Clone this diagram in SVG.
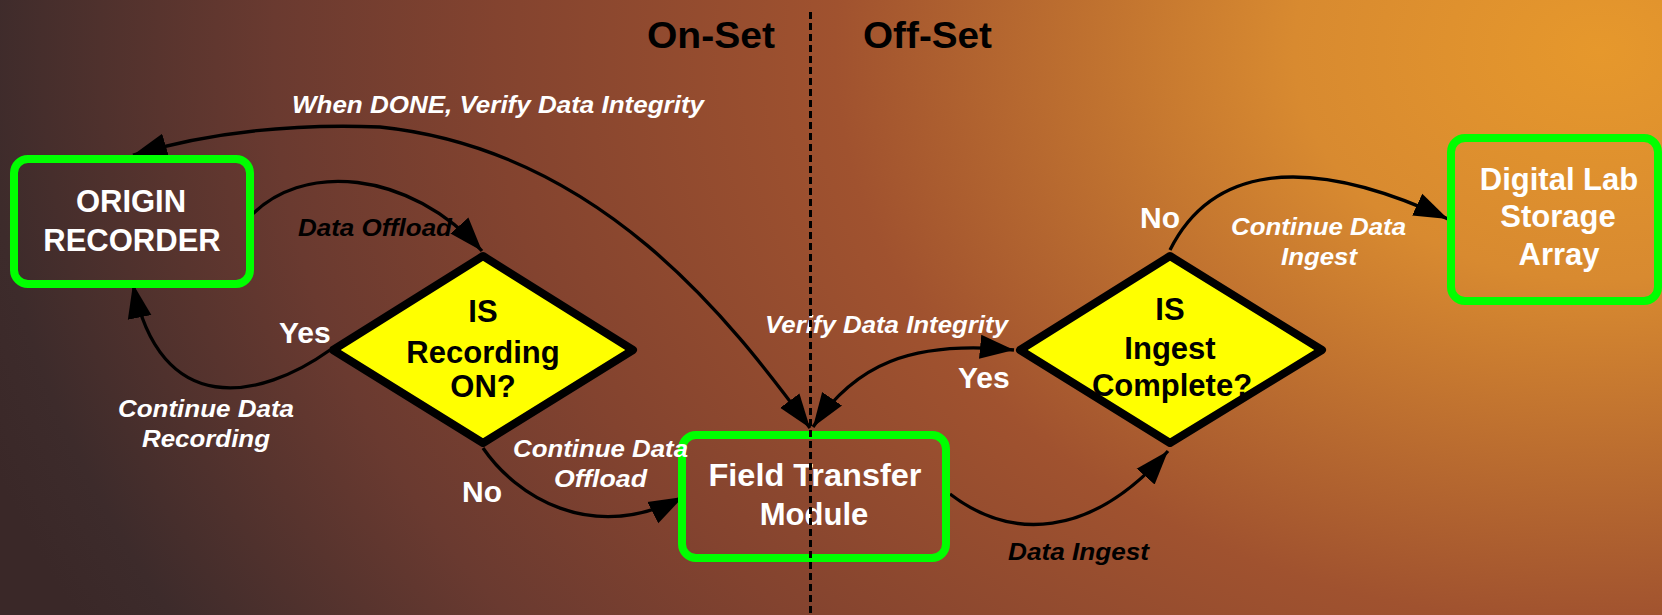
<svg xmlns="http://www.w3.org/2000/svg" width="1662" height="615" viewBox="0 0 1662 615">
<defs>
<radialGradient id="bg" gradientUnits="userSpaceOnUse" cx="1600" cy="50" r="1700" gradientTransform="translate(1600 50) scale(1 0.75) translate(-1600 -50)">
<stop offset="0" stop-color="#e6982c"/>
<stop offset="0.18" stop-color="#d88a30"/>
<stop offset="0.45" stop-color="#a0522f"/>
<stop offset="0.65" stop-color="#83432f"/>
<stop offset="0.78" stop-color="#6a3a30"/>
<stop offset="0.95" stop-color="#3d2b2b"/>
<stop offset="1" stop-color="#3a2828"/>
</radialGradient>
<marker id="ah" markerUnits="userSpaceOnUse" markerWidth="36" markerHeight="26" refX="34" refY="12" orient="auto-start-reverse" viewBox="0 0 36 24">
<path d="M0,0 L34,12 L0,24 z" fill="#000"/>
</marker>
<style>
.box{fill:none;stroke:#00ff00;stroke-width:8}
.dia{fill:#ffff00;stroke:#000;stroke-width:8;stroke-linejoin:round}
.wt{font-family:"Liberation Sans",Arial,sans-serif;font-weight:bold;font-size:31px;fill:#fff;text-anchor:middle}
.bt{font-family:"Liberation Sans",Arial,sans-serif;font-weight:bold;font-size:31px;fill:#000;text-anchor:middle}
.lbl{font-family:"Liberation Sans",Arial,sans-serif;font-weight:bold;font-size:30px;fill:#fff}
.it{font-family:"Liberation Sans",Arial,sans-serif;font-weight:bold;font-style:italic;font-size:24px;fill:#fff}
.itb{font-family:"Liberation Sans",Arial,sans-serif;font-weight:bold;font-style:italic;font-size:24px;fill:#000}
.hd{font-family:"Liberation Sans",Arial,sans-serif;font-weight:bold;font-size:36px;fill:#000}
.con{fill:none;stroke:#000;stroke-width:3.3}
</style>
</defs>
<rect x="0" y="0" width="1662" height="615" fill="url(#bg)"/>

<g id="connectors">
<path class="con" d="M810,428 C730,320 600,150 380,127 C280,123 200,135 133,155" marker-start="url(#ah)" marker-end="url(#ah)"/>
<path class="con" d="M248,219 C300,160 410,170 482,251" marker-end="url(#ah)"/>
<path class="con" d="M330,350 C260,400 160,420 133,284" marker-end="url(#ah)"/>
<path class="con" d="M483,448 C515,495 590,545 683,497" marker-end="url(#ah)"/>
<path class="con" d="M813,427 C855,365 910,340 1014,350" marker-start="url(#ah)" marker-end="url(#ah)"/>
<path class="con" d="M950,494 C1010,540 1090,540 1168,451" marker-end="url(#ah)"/>
<path class="con" d="M1170,250 C1210,170 1300,150 1448,219" marker-end="url(#ah)"/>
</g>

<g id="origin-recorder">
<rect class="box" x="14" y="159" width="236" height="125" rx="14"/>
<text class="wt" x="131" y="212">ORIGIN</text>
<text class="wt" x="132" y="251">RECORDER</text>
</g>

<g id="is-recording-on">
<polygon class="dia" points="483,256 633,350 483,443 333,350"/>
<text class="bt" x="483" y="322">IS</text>
<text class="bt" x="483" y="363">Recording</text>
<text class="bt" x="483" y="397">ON?</text>
</g>

<g id="field-transfer-module">
<rect class="box" x="682" y="435" width="264" height="123" rx="14"/>
<text class="wt" x="815" y="486" textLength="213" lengthAdjust="spacingAndGlyphs">Field Transfer</text>
<text class="wt" x="814" y="525">Module</text>
</g>

<g id="is-ingest-complete">
<polygon class="dia" points="1170,256 1322,350 1170,443 1020,350"/>
<text class="bt" x="1170" y="320">IS</text>
<text class="bt" x="1170" y="359">Ingest</text>
<text class="bt" x="1172" y="396">Complete?</text>
</g>

<g id="digital-lab-storage-array">
<rect class="box" x="1451" y="138" width="207" height="163" rx="14"/>
<text class="wt" x="1559" y="190">Digital Lab</text>
<text class="wt" x="1558" y="227">Storage</text>
<text class="wt" x="1559" y="265">Array</text>
</g>

<g id="labels">
<text class="it" x="292" y="113" textLength="412" lengthAdjust="spacingAndGlyphs">When DONE, Verify Data Integrity</text>
<text class="itb" x="298" y="236" textLength="154" lengthAdjust="spacingAndGlyphs">Data Offload</text>
<text class="lbl" x="279" y="343">Yes</text>
<text class="it" x="118" y="417" textLength="176" lengthAdjust="spacingAndGlyphs">Continue Data</text>
<text class="it" x="142" y="447" textLength="128" lengthAdjust="spacingAndGlyphs">Recording</text>
<text class="it" x="513" y="457" textLength="175" lengthAdjust="spacingAndGlyphs">Continue Data</text>
<text class="it" x="554" y="487" textLength="93" lengthAdjust="spacingAndGlyphs">Offload</text>
<text class="lbl" x="462" y="502">No</text>
<text class="it" x="765" y="333" textLength="243" lengthAdjust="spacingAndGlyphs">Verify Data Integrity</text>
<text class="lbl" x="958" y="388">Yes</text>
<text class="itb" x="1008" y="560" textLength="141" lengthAdjust="spacingAndGlyphs">Data Ingest</text>
<text class="lbl" x="1140" y="228">No</text>
<text class="it" x="1231" y="235" textLength="175" lengthAdjust="spacingAndGlyphs">Continue Data</text>
<text class="it" x="1281" y="265" textLength="76" lengthAdjust="spacingAndGlyphs">Ingest</text>
<text class="hd" x="647" y="48" textLength="128" lengthAdjust="spacingAndGlyphs">On-Set</text>
<text class="hd" x="863" y="48" textLength="129" lengthAdjust="spacingAndGlyphs">Off-Set</text>
</g>

<g id="divider">
<line x1="810.5" y1="12" x2="810.5" y2="615" stroke="#000" stroke-width="3" stroke-dasharray="7 4"/>
</g>
</svg>
